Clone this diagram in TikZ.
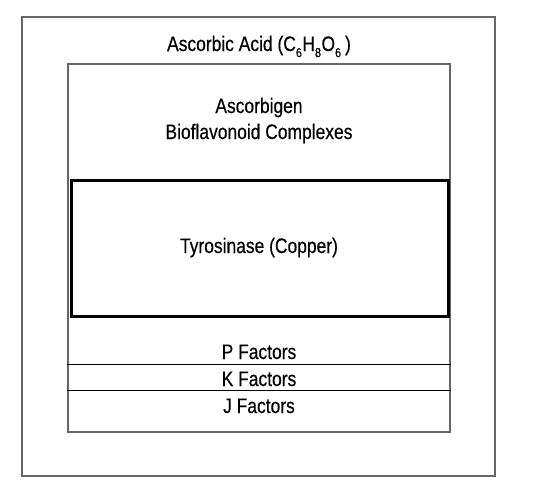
\documentclass[tikz,border=0pt]{standalone}
\usepackage{fontspec}
\setmainfont{Liberation Sans}[FakeStretch=0.83, FakeBold=0.4]
\newcommand\chemsub[1]{\raisebox{-0.55ex}{\fontsize{13}{13}\selectfont #1}\kern0.5pt}

\begin{document}
\begin{tikzpicture}[x=1pt, y=-1pt,
        frame/.style={draw=black!60, line width=1.5pt, inner sep=0pt},
        txt/.style={anchor=base, align=center, font=\fontsize{21}{26}\selectfont}]
        \useasboundingbox (0,0) rectangle (539,499);
        \node[frame, minimum width=473pt, minimum height=459pt] (Outer) at (258.5,246.5) {};
        \node[frame, minimum width=382pt, minimum height=368pt] (Inner) at (259,248) {};
        \node[draw, line width=3pt, inner sep=0pt, minimum width=377pt, minimum height=136pt] (Tyrosinase) at (259.5,248.5) {};
        \coordinate (PK) at (0,364);
        \coordinate (KJ) at (0,390);

        \node[txt] (Acid) at (259,51) {Ascorbic Acid (C\chemsub{6}H\chemsub{8}O\chemsub{6}\,)};
        \node[txt] (Ascorbigen) at (259,139) {Ascorbigen\\Bioflavonoid Complexes};
        \node[txt] (Copper) at (259,253) {Tyrosinase (Copper)};
        \node[txt] (PFactors) at (259,359) {P Factors};
        \node[txt] (KFactors) at (259,386) {K Factors};
        \node[txt] (JFactors) at (259,413) {J Factors};

        \draw[line width=1pt] (Inner.west |- PK) -- (Inner.east |- PK);
        \draw[line width=1pt] (Inner.west |- KJ) -- (Inner.east |- KJ);
    \end{tikzpicture}
\end{document}
